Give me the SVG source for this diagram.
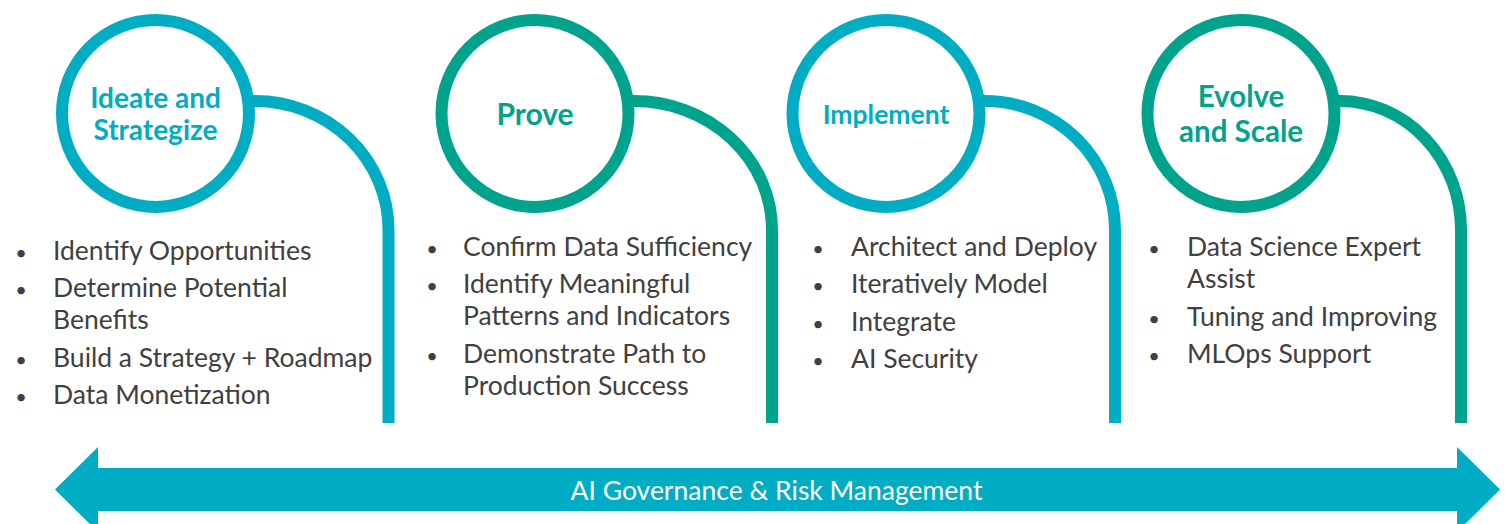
<svg xmlns="http://www.w3.org/2000/svg" width="1506" height="524" viewBox="0 0 1506 524">
<style>
.ring{fill:#fff;stroke-width:12}
.b{stroke:#00ADC3}
.g{stroke:#00A38B}
.con{fill:none;stroke-width:12}
.title{font-family:Lato,'Liberation Sans',sans-serif;font-weight:bold;font-size:28px;text-anchor:middle}
.tb{fill:#00ADC3}
.tg{fill:#00A38B}
.item{font-family:Lato,'Liberation Sans',sans-serif;font-size:26.5px;fill:#404040}
.dot{font-family:Lato,'Liberation Sans',sans-serif;font-size:20px;fill:#404040;text-anchor:middle}
.band{font-family:Lato,'Liberation Sans',sans-serif;font-size:26.5px;fill:#fff;text-anchor:middle}
</style>
<rect width="1506" height="524" fill="#fff"/>
<g id="connectors">
<path class="con b" d="M 244 101 H 255 A 133.5 129 0 0 1 388.5 230 V 423"/>
<path class="con g" d="M 624 101 H 634 A 138 129 0 0 1 772 230 V 423"/>
<path class="con b" d="M 975 101 H 985 A 130 129 0 0 1 1115 230 V 423"/>
<path class="con g" d="M 1330 101 H 1340 A 121 129 0 0 1 1461 230 V 423"/>
<path id="governance-arrow" d="M 55 489.5 L 98 447 V 468 H 1457 V 447 L 1500 489.5 L 1457 532 V 511 H 98 V 532 Z" fill="#00ADC4"/>
<text class="band" x="776.5" y="500">AI Governance &amp; Risk Management</text>
</g>
<g id="ideate">
<circle class="ring b" cx="155.5" cy="113.5" r="93.5"/>
<text class="title tb" x="155.5" y="108">Ideate and</text>
<text class="title tb" x="155.5" y="140">Strategize</text>
<text class="dot" x="21" y="260">•</text>
<text class="item" x="53" y="260">Identify Opportunities</text>
<text class="dot" x="21" y="297">•</text>
<text class="item" x="53" y="297">Determine Potential</text>
<text class="item" x="53" y="329">Benefits</text>
<text class="dot" x="21" y="367">•</text>
<text class="item" x="53" y="367">Build a Strategy + Roadmap</text>
<text class="dot" x="21" y="404">•</text>
<text class="item" x="53" y="404">Data Monetization</text>
</g>
<g id="prove">
<circle class="ring g" cx="535" cy="113.5" r="93.5"/>
<text class="title tg" x="535" y="125" style="font-size:30px">Prove</text>
<text class="dot" x="432" y="256">•</text>
<text class="item" x="463" y="256">Confirm Data Sufficiency</text>
<text class="dot" x="432" y="293">•</text>
<text class="item" x="463" y="293">Identify Meaningful</text>
<text class="item" x="463" y="325">Patterns and Indicators</text>
<text class="dot" x="432" y="363">•</text>
<text class="item" x="463" y="363">Demonstrate Path to</text>
<text class="item" x="463" y="395">Production Success</text>
</g>
<g id="implement">
<circle class="ring b" cx="886" cy="113.5" r="93.5"/>
<text class="title tb" x="886" y="124" style="font-size:26.5px">Implement</text>
<text class="dot" x="818" y="256">•</text>
<text class="item" x="851" y="256">Architect and Deploy</text>
<text class="dot" x="818" y="293">•</text>
<text class="item" x="851" y="293">Iteratively Model</text>
<text class="dot" x="818" y="331">•</text>
<text class="item" x="851" y="331">Integrate</text>
<text class="dot" x="818" y="368">•</text>
<text class="item" x="851" y="368">AI Security</text>
</g>
<g id="evolve">
<circle class="ring g" cx="1241" cy="113.5" r="93.5"/>
<text class="title tg" x="1241" y="107" style="font-size:29.5px">Evolve</text>
<text class="title tg" x="1241" y="142" style="font-size:29.5px">and Scale</text>
<text class="dot" x="1154" y="256">•</text>
<text class="item" x="1187" y="256">Data Science Expert</text>
<text class="item" x="1187" y="288">Assist</text>
<text class="dot" x="1154" y="326">•</text>
<text class="item" x="1187" y="326">Tuning and Improving</text>
<text class="dot" x="1154" y="363">•</text>
<text class="item" x="1187" y="363">MLOps Support</text>
</g>
</svg>
